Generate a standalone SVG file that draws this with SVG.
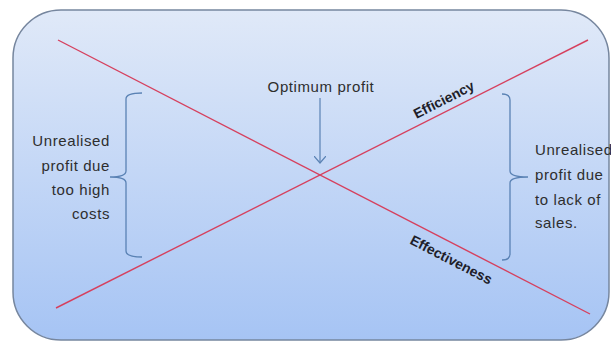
<svg xmlns="http://www.w3.org/2000/svg" width="611" height="342" viewBox="0 0 611 342">
<defs>
<linearGradient id="bg" x1="0" y1="0" x2="0" y2="1">
<stop offset="0" stop-color="#e0e9f8"/>
<stop offset="1" stop-color="#a6c4f4"/>
</linearGradient>
<marker id="ah" markerWidth="12" markerHeight="12" refX="7" refY="6" orient="auto" markerUnits="userSpaceOnUse">
<path d="M0,0 L7,6 L0,12" fill="none" stroke="#5a82b4" stroke-width="1.2"/>
</marker>
<style>
.t{font-family:"Liberation Sans",Arial,sans-serif;font-size:15px;fill:#2e2e2e;letter-spacing:0.6px}
.b{font-family:"Liberation Sans",Arial,sans-serif;font-size:14px;font-weight:bold;fill:#1e1e2a}
.red{stroke:#d6405e;stroke-width:1.4;fill:none}
.br{stroke:#5a82b4;stroke-width:1.3;fill:none}
</style>
</defs>
<rect id="background" x="13" y="10" width="596" height="330" rx="48" ry="48" fill="url(#bg)" stroke="#76869e" stroke-width="1.5"/>
<g id="connectors">
<line id="effectiveness-line" class="red" x1="58" y1="40" x2="590" y2="314"/>
<line id="efficiency-line" class="red" x1="56" y1="308" x2="588" y2="40"/>
<line id="optimum-arrow" x1="320" y1="98" x2="320" y2="163" stroke="#5a82b4" stroke-width="1.2" marker-end="url(#ah)"/>
</g>
<g id="optimum">
<text class="t" x="321" y="92" text-anchor="middle" letter-spacing="0.9">Optimum profit</text>
</g>
<g id="efficiency">
<text class="b" transform="translate(446,104) rotate(-26.8)" text-anchor="middle">Efficiency</text>
</g>
<g id="effectiveness">
<text class="b" transform="translate(449,264) rotate(27.3)" text-anchor="middle">Effectiveness</text>
</g>
<g id="left-bracket">
<path class="br" d="M142,93 Q126,93 126,99 L126,171 Q126,177 110,177 Q126,177 126,183 L126,251 Q126,257 142,257"/>
</g>
<g id="left-text">
<text class="t" text-anchor="end" x="110" y="146">Unrealised</text>
<text class="t" text-anchor="end" x="110" y="171">profit due</text>
<text class="t" text-anchor="end" x="110" y="195">too high</text>
<text class="t" text-anchor="end" x="110" y="219">costs</text>
</g>
<g id="right-bracket">
<path class="br" d="M502,94 Q510,94 510,100 L510,171 Q510,177 528,177 Q510,177 510,183 L510,254 Q510,260 502,260"/>
</g>
<g id="right-text">
<text class="t" x="535" y="155">Unrealised</text>
<text class="t" x="535" y="180">profit due</text>
<text class="t" x="535" y="205">to lack of</text>
<text class="t" x="535" y="228">sales.</text>
</g>
</svg>
